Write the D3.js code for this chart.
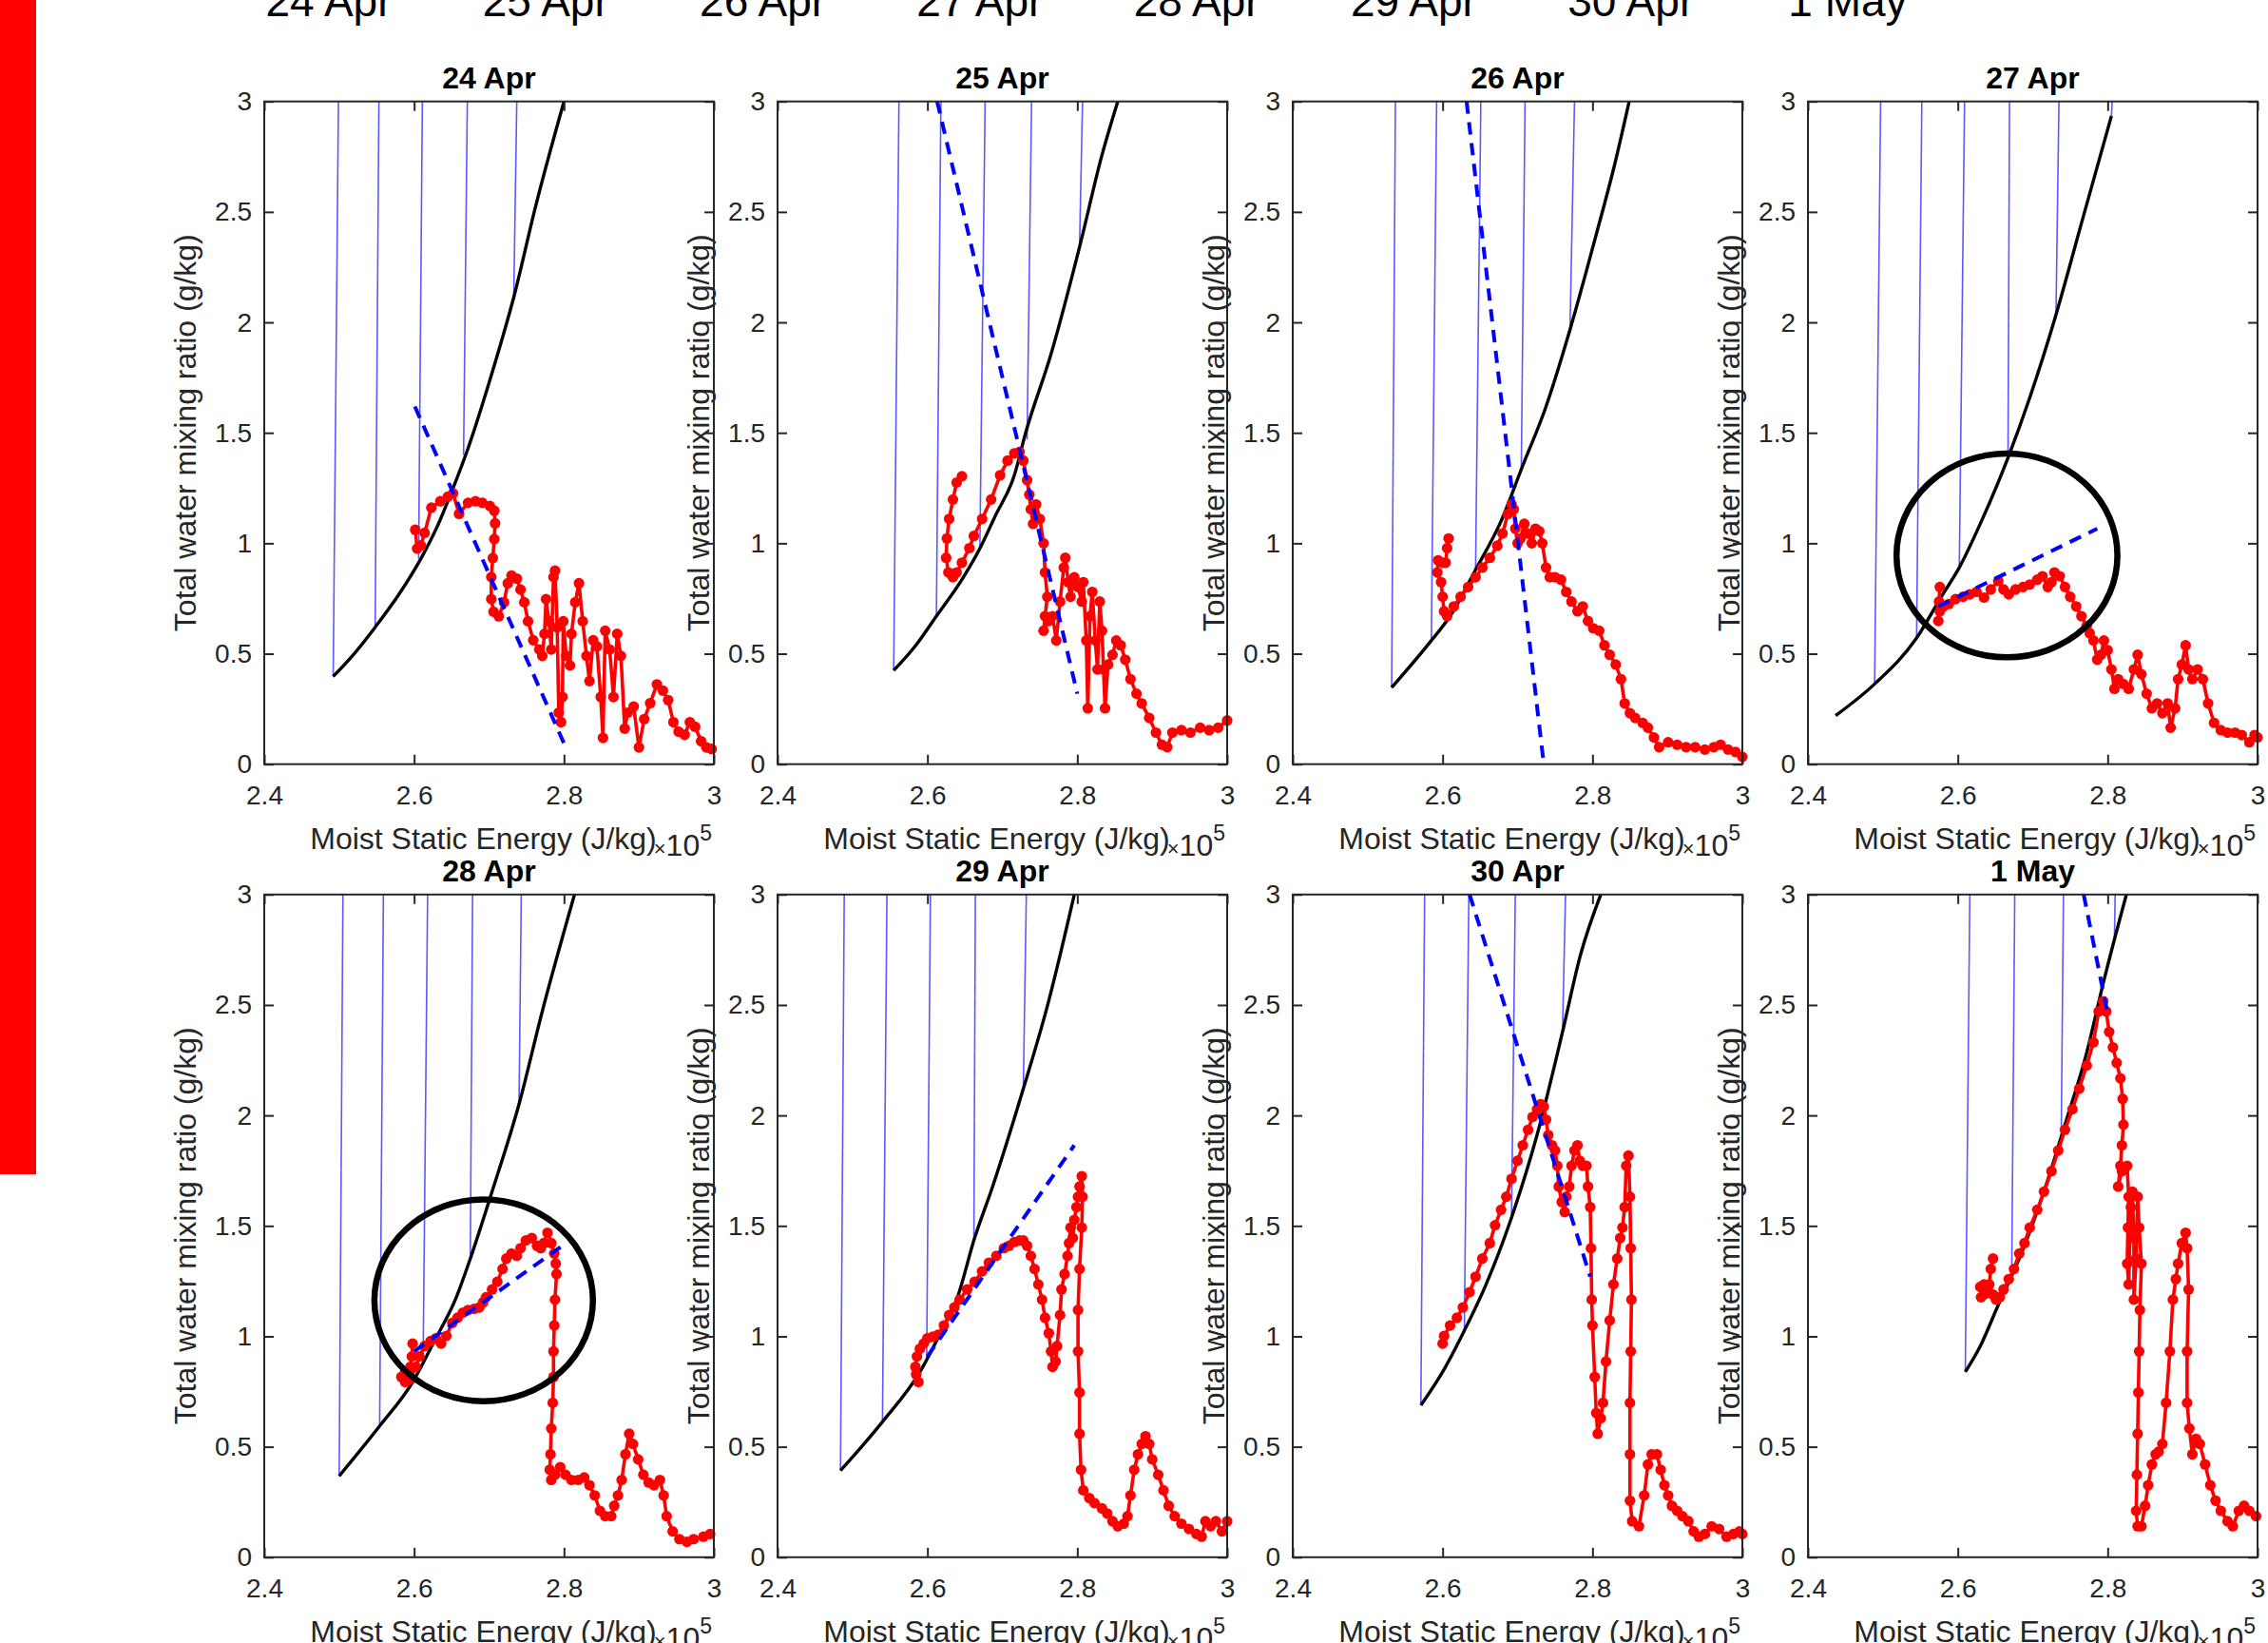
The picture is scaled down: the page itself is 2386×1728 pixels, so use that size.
<!DOCTYPE html>
<html>
<head>
<meta charset="utf-8">
<script src="https://cdn.jsdelivr.net/npm/d3@7"></script>
<style>
  body { margin: 0; background: #fff; }
  svg { display: block; font-family: "Liberation Sans", Arial, sans-serif; }
</style>
</head>
<body>
<div id="chart"></div>
<script>
// ---- data (MSE in 1e5 J/kg, q in g/kg) ----
var headerDays = ["24 Apr", "25 Apr", "26 Apr", "27 Apr", "28 Apr", "29 Apr", "30 Apr", "1 May"];
var panelTitles = ["24 Apr", "25 Apr", "26 Apr", "27 Apr", "28 Apr", "29 Apr", "30 Apr", "1 May"];
var xTicks = [2.4, 2.6, 2.8, 3];
var yTicks = [0, 0.5, 1, 1.5, 2, 2.5, 3];
var xLabel = "Moist Static Energy (J/kg)";
var yLabel = "Total water mixing ratio (g/kg)";

// saturation curve (black) for each day
var satCurves = [
  [[2.492,0.397],[2.52,0.50],[2.548,0.62],[2.58,0.77],[2.609,0.93],[2.63,1.07],[2.652,1.25],[2.672,1.43],[2.703,1.76],[2.735,2.14],[2.761,2.51],[2.8,3.0]],
  [[2.555,0.424],[2.585,0.54],[2.612,0.67],[2.648,0.846],[2.672,0.99],[2.69,1.12],[2.716,1.308],[2.731,1.499],[2.765,1.857],[2.803,2.341],[2.833,2.758],[2.854,3.0]],
  [[2.532,0.347],[2.585,0.56],[2.61,0.67],[2.644,0.88],[2.678,1.10],[2.707,1.352],[2.736,1.60],[2.77,1.967],[2.804,2.385],[2.83,2.72],[2.849,3.0]],
  [[2.437,0.22],[2.489,0.363],[2.545,0.571],[2.578,0.758],[2.602,0.89],[2.63,1.088],[2.668,1.396],[2.696,1.659],[2.729,2.011],[2.767,2.473],[2.805,2.934]],
  [[2.5,0.368],[2.554,0.594],[2.598,0.793],[2.627,0.979],[2.655,1.166],[2.675,1.352],[2.704,1.655],[2.74,2.051],[2.771,2.471],[2.814,3.0]],
  [[2.484,0.392],[2.54,0.613],[2.59,0.839],[2.619,1.026],[2.639,1.166],[2.663,1.445],[2.687,1.678],[2.728,2.121],[2.76,2.494],[2.796,3.0]],
  [[2.571,0.688],[2.6,0.839],[2.629,1.026],[2.658,1.235],[2.692,1.538],[2.726,1.911],[2.76,2.378],[2.784,2.727],[2.811,3.0]],
  [[2.61,0.839],[2.63,0.956],[2.654,1.142],[2.682,1.352],[2.715,1.655],[2.743,1.958],[2.772,2.284],[2.795,2.611],[2.825,3.0]]
];

// thin blue lines: [MSE at curve, q at curve, MSE at top]
var isoLines = [
  [[2.492,0.397,2.499],[2.548,0.62,2.553],[2.606,0.93,2.611],[2.666,1.40,2.671],[2.733,2.12,2.737]],
  [[2.555,0.424,2.562],[2.612,0.67,2.618],[2.670,0.98,2.677],[2.733,1.47,2.739],[2.803,2.341,2.807]],
  [[2.532,0.347,2.537],[2.585,0.56,2.592],[2.644,0.88,2.651],[2.705,1.33,2.710],[2.770,1.967,2.776]],
  [[2.489,0.363,2.497],[2.545,0.571,2.552],[2.602,0.89,2.609],[2.667,1.39,2.669],[2.731,2.03,2.735],[2.805,2.934,2.806]],
  [[2.5,0.368,2.505],[2.554,0.594,2.559],[2.612,0.88,2.618],[2.675,1.352,2.678],[2.74,2.051,2.743]],
  [[2.484,0.392,2.489],[2.54,0.613,2.546],[2.599,0.90,2.604],[2.662,1.434,2.664],[2.728,2.121,2.732]],
  [[2.571,0.688,2.576],[2.629,1.026,2.635],[2.692,1.538,2.697],[2.760,2.378,2.764]],
  [[2.61,0.839,2.616],[2.672,1.30,2.676],[2.738,1.90,2.741],[2.809,2.80,2.810]]
];

// dashed blue mixing line end points
var mixLines = [
  [[2.601,1.619],[2.803,0.071]],
  [[2.613,3.0],[2.8,0.319]],
  [[2.632,3.0],[2.735,0.0]],
  [[2.574,0.714],[2.786,1.066]],
  [[2.6,0.932],[2.798,1.41]],
  [[2.6,0.909],[2.796,1.865]],
  [[2.636,3.0],[2.797,1.27]],
  [[2.768,3.0],[2.8,2.459]]
];

// observed profiles (red), one array per day
var obs24Apr = [[2.6015,1.061],[2.604,0.976],[2.609,0.99],[2.614,1.047],[2.623,1.161],[2.635,1.19],[2.645,1.211],[2.652,1.226],[2.66,1.133],[2.672,1.183],[2.682,1.19],[2.691,1.183],[2.701,1.169],[2.707,1.147],[2.708,1.09],[2.707,1.019],[2.705,0.933],[2.703,0.847],[2.703,0.747],[2.706,0.69],[2.713,0.669],[2.72,0.733],[2.725,0.819],[2.73,0.854],[2.737,0.84],[2.742,0.79],[2.747,0.733],[2.752,0.647],[2.759,0.561],[2.767,0.519],[2.771,0.49],[2.774,0.59],[2.776,0.747],[2.78,0.647],[2.783,0.519],[2.786,0.847],[2.788,0.876],[2.791,0.619],[2.793,0.233],[2.796,0.19],[2.798,0.304],[2.799,0.647],[2.803,0.49],[2.808,0.447],[2.81,0.59],[2.815,0.733],[2.82,0.819],[2.825,0.647],[2.83,0.49],[2.834,0.376],[2.839,0.561],[2.844,0.533],[2.849,0.304],[2.852,0.119],[2.855,0.604],[2.861,0.519],[2.866,0.304],[2.871,0.59],[2.876,0.49],[2.881,0.161],[2.885,0.233],[2.893,0.261],[2.9,0.076],[2.907,0.204],[2.915,0.276],[2.924,0.361],[2.932,0.333],[2.939,0.29],[2.946,0.19],[2.953,0.147],[2.961,0.133],[2.968,0.19],[2.975,0.169],[2.983,0.104],[2.99,0.076],[2.997,0.069]];
var obs25Apr = [[2.646,1.303],[2.639,1.275],[2.634,1.198],[2.629,1.11],[2.626,1.022],[2.625,0.934],[2.628,0.868],[2.634,0.846],[2.639,0.868],[2.646,0.912],[2.656,0.978],[2.662,1.033],[2.673,1.11],[2.685,1.198],[2.697,1.308],[2.707,1.374],[2.716,1.407],[2.723,1.413],[2.728,1.374],[2.733,1.286],[2.736,1.22],[2.738,1.154],[2.741,1.088],[2.745,1.176],[2.75,1.11],[2.755,1.0],[2.757,0.868],[2.76,0.758],[2.757,0.67],[2.755,0.604],[2.762,0.648],[2.767,0.67],[2.772,0.56],[2.777,0.736],[2.782,0.89],[2.784,0.934],[2.788,0.824],[2.791,0.758],[2.796,0.846],[2.801,0.802],[2.806,0.736],[2.808,0.824],[2.812,0.56],[2.814,0.253],[2.817,0.67],[2.82,0.78],[2.824,0.56],[2.827,0.429],[2.83,0.736],[2.833,0.604],[2.835,0.429],[2.837,0.253],[2.841,0.451],[2.847,0.495],[2.852,0.56],[2.858,0.538],[2.864,0.473],[2.871,0.385],[2.879,0.319],[2.886,0.275],[2.896,0.209],[2.905,0.143],[2.913,0.088],[2.92,0.077],[2.927,0.143],[2.939,0.154],[2.951,0.143],[2.964,0.165],[2.976,0.154],[2.988,0.165],[3.0,0.198]];
var obs26Apr = [[2.608,1.022],[2.606,0.978],[2.604,0.912],[2.6,0.912],[2.594,0.923],[2.593,0.868],[2.598,0.824],[2.6,0.758],[2.602,0.692],[2.606,0.67],[2.615,0.714],[2.624,0.758],[2.634,0.802],[2.644,0.846],[2.653,0.89],[2.663,0.934],[2.673,0.989],[2.68,1.044],[2.687,1.132],[2.692,1.176],[2.695,1.154],[2.697,1.066],[2.7,1.0],[2.704,1.022],[2.709,1.088],[2.714,1.044],[2.719,1.0],[2.724,1.066],[2.729,1.055],[2.733,1.0],[2.738,0.89],[2.743,0.846],[2.75,0.846],[2.758,0.835],[2.765,0.78],[2.772,0.736],[2.78,0.692],[2.787,0.714],[2.794,0.648],[2.801,0.615],[2.809,0.604],[2.816,0.538],[2.823,0.495],[2.831,0.451],[2.838,0.385],[2.843,0.275],[2.85,0.231],[2.857,0.209],[2.867,0.187],[2.874,0.165],[2.882,0.121],[2.889,0.077],[2.901,0.099],[2.913,0.088],[2.925,0.077],[2.937,0.077],[2.95,0.066],[2.962,0.077],[2.971,0.088],[2.981,0.066],[2.991,0.055],[3.0,0.033]];
var obs27Apr = [[2.576,0.802],[2.575,0.736],[2.574,0.648],[2.576,0.692],[2.581,0.714],[2.588,0.725],[2.597,0.747],[2.607,0.758],[2.616,0.769],[2.625,0.78],[2.635,0.754],[2.644,0.791],[2.654,0.829],[2.661,0.791],[2.668,0.769],[2.677,0.791],[2.687,0.802],[2.696,0.813],[2.706,0.835],[2.713,0.851],[2.72,0.802],[2.725,0.824],[2.729,0.868],[2.736,0.851],[2.743,0.802],[2.75,0.758],[2.758,0.714],[2.765,0.67],[2.772,0.626],[2.776,0.593],[2.781,0.56],[2.786,0.473],[2.791,0.495],[2.795,0.56],[2.8,0.516],[2.805,0.429],[2.809,0.341],[2.814,0.385],[2.821,0.363],[2.828,0.341],[2.835,0.429],[2.84,0.495],[2.845,0.407],[2.852,0.319],[2.859,0.253],[2.866,0.275],[2.873,0.231],[2.88,0.275],[2.884,0.165],[2.89,0.253],[2.894,0.385],[2.899,0.451],[2.904,0.538],[2.908,0.429],[2.913,0.385],[2.92,0.429],[2.927,0.385],[2.934,0.275],[2.942,0.187],[2.951,0.154],[2.96,0.143],[2.97,0.143],[2.979,0.132],[2.989,0.099],[2.996,0.132],[3.0,0.121]];
var obs28Apr = [[2.598,0.967],[2.597,0.909],[2.595,0.862],[2.588,0.839],[2.583,0.816],[2.588,0.793],[2.595,0.804],[2.602,0.862],[2.607,0.909],[2.614,0.956],[2.622,0.979],[2.629,0.991],[2.636,0.967],[2.643,1.002],[2.651,1.061],[2.658,1.084],[2.665,1.107],[2.672,1.119],[2.68,1.124],[2.687,1.131],[2.692,1.154],[2.696,1.177],[2.704,1.212],[2.711,1.247],[2.718,1.305],[2.723,1.352],[2.73,1.375],[2.737,1.364],[2.742,1.399],[2.749,1.434],[2.757,1.445],[2.764,1.41],[2.769,1.399],[2.773,1.422],[2.778,1.469],[2.783,1.422],[2.787,1.375],[2.789,1.329],[2.79,1.282],[2.788,1.166],[2.787,1.049],[2.786,0.932],[2.786,0.816],[2.785,0.699],[2.783,0.583],[2.782,0.466],[2.781,0.396],[2.783,0.35],[2.788,0.373],[2.795,0.408],[2.802,0.373],[2.81,0.35],[2.819,0.35],[2.827,0.361],[2.834,0.326],[2.841,0.28],[2.848,0.21],[2.855,0.186],[2.863,0.186],[2.867,0.233],[2.872,0.28],[2.877,0.35],[2.882,0.466],[2.887,0.559],[2.892,0.513],[2.899,0.443],[2.906,0.373],[2.913,0.338],[2.92,0.326],[2.928,0.35],[2.933,0.28],[2.937,0.186],[2.945,0.117],[2.954,0.082],[2.964,0.07],[2.973,0.082],[2.986,0.093],[2.995,0.105]];
var obs29Apr = [[2.588,0.793],[2.585,0.828],[2.584,0.862],[2.586,0.909],[2.59,0.944],[2.595,0.967],[2.6,0.991],[2.607,0.998],[2.614,1.007],[2.622,1.049],[2.629,1.096],[2.636,1.131],[2.643,1.166],[2.653,1.212],[2.663,1.247],[2.673,1.294],[2.682,1.333],[2.692,1.364],[2.702,1.399],[2.709,1.41],[2.716,1.427],[2.723,1.434],[2.728,1.434],[2.733,1.41],[2.738,1.364],[2.743,1.305],[2.748,1.235],[2.753,1.166],[2.757,1.084],[2.762,1.014],[2.765,0.932],[2.767,0.862],[2.771,0.886],[2.773,0.956],[2.777,1.096],[2.779,1.212],[2.783,1.282],[2.787,1.364],[2.789,1.422],[2.791,1.492],[2.794,1.445],[2.796,1.527],[2.799,1.585],[2.801,1.632],[2.803,1.678],[2.806,1.725],[2.807,1.632],[2.806,1.492],[2.803,1.305],[2.801,1.119],[2.801,0.932],[2.803,0.746],[2.803,0.559],[2.805,0.396],[2.808,0.303],[2.816,0.268],[2.823,0.245],[2.833,0.221],[2.84,0.198],[2.847,0.163],[2.854,0.14],[2.862,0.152],[2.867,0.186],[2.871,0.28],[2.876,0.396],[2.881,0.466],[2.886,0.513],[2.891,0.548],[2.896,0.513],[2.9,0.443],[2.908,0.373],[2.915,0.303],[2.922,0.233],[2.93,0.186],[2.939,0.152],[2.949,0.128],[2.959,0.105],[2.966,0.093],[2.971,0.163],[2.978,0.14],[2.985,0.163],[2.993,0.117],[3.0,0.163]];
var obs30Apr = [[2.6,0.967],[2.602,1.002],[2.61,1.049],[2.619,1.084],[2.627,1.131],[2.636,1.2],[2.644,1.27],[2.653,1.352],[2.663,1.422],[2.67,1.503],[2.678,1.573],[2.685,1.632],[2.692,1.713],[2.7,1.795],[2.707,1.865],[2.714,1.935],[2.72,1.993],[2.726,2.028],[2.731,2.051],[2.735,2.04],[2.738,1.981],[2.741,1.911],[2.746,1.865],[2.75,1.841],[2.753,1.772],[2.755,1.678],[2.759,1.608],[2.763,1.562],[2.765,1.632],[2.769,1.678],[2.772,1.772],[2.776,1.841],[2.78,1.865],[2.783,1.795],[2.787,1.772],[2.792,1.772],[2.794,1.678],[2.797,1.585],[2.798,1.399],[2.799,1.166],[2.8,1.049],[2.803,0.816],[2.805,0.653],[2.807,0.559],[2.811,0.629],[2.814,0.699],[2.818,0.886],[2.823,1.072],[2.828,1.235],[2.833,1.352],[2.837,1.445],[2.84,1.492],[2.843,1.585],[2.845,1.772],[2.848,1.818],[2.85,1.632],[2.851,1.399],[2.852,1.166],[2.851,0.932],[2.85,0.699],[2.85,0.466],[2.85,0.256],[2.853,0.163],[2.862,0.14],[2.869,0.28],[2.874,0.42],[2.879,0.466],[2.886,0.466],[2.891,0.396],[2.896,0.326],[2.901,0.28],[2.906,0.233],[2.913,0.21],[2.92,0.186],[2.928,0.163],[2.935,0.117],[2.942,0.093],[2.95,0.105],[2.959,0.14],[2.969,0.128],[2.979,0.093],[2.988,0.105],[2.996,0.117],[3.0,0.105]];
var obs1May = [[2.647,1.352],[2.644,1.305],[2.642,1.235],[2.635,1.235],[2.63,1.224],[2.631,1.177],[2.635,1.189],[2.64,1.212],[2.647,1.189],[2.651,1.166],[2.656,1.177],[2.661,1.212],[2.668,1.259],[2.675,1.305],[2.682,1.375],[2.689,1.422],[2.696,1.492],[2.706,1.573],[2.715,1.655],[2.725,1.748],[2.734,1.841],[2.743,1.935],[2.753,2.028],[2.762,2.121],[2.772,2.226],[2.781,2.331],[2.788,2.471],[2.794,2.517],[2.798,2.471],[2.802,2.378],[2.807,2.308],[2.812,2.238],[2.817,2.168],[2.82,2.075],[2.821,1.958],[2.819,1.865],[2.817,1.772],[2.814,1.678],[2.819,1.748],[2.826,1.772],[2.828,1.632],[2.827,1.492],[2.826,1.329],[2.828,1.235],[2.831,1.585],[2.833,1.655],[2.835,1.445],[2.835,1.166],[2.838,1.352],[2.84,1.632],[2.842,1.492],[2.845,1.329],[2.843,1.119],[2.842,0.932],[2.841,0.746],[2.84,0.559],[2.839,0.373],[2.838,0.21],[2.84,0.14],[2.845,0.14],[2.85,0.233],[2.854,0.326],[2.859,0.42],[2.864,0.466],[2.868,0.478],[2.873,0.513],[2.878,0.699],[2.883,0.932],[2.887,1.166],[2.891,1.259],[2.894,1.329],[2.899,1.422],[2.904,1.469],[2.906,1.399],[2.908,1.212],[2.906,0.932],[2.906,0.699],[2.909,0.583],[2.913,0.466],[2.918,0.536],[2.923,0.513],[2.93,0.42],[2.937,0.326],[2.944,0.256],[2.951,0.21],[2.96,0.163],[2.967,0.14],[2.975,0.21],[2.982,0.233],[2.989,0.21],[2.998,0.186]];
var obsSeries = [obs24Apr, obs25Apr, obs26Apr, obs27Apr, obs28Apr, obs29Apr, obs30Apr, obs1May];

// hand-drawn black circles: panel index, centre [MSE, q], radii [MSE, q]
var circlePanels = [3, 4];
var circleCentres = [[2.6656, 0.945], [2.6928, 1.163]];
var circleRadii = [[0.1474, 0.4615], [0.1458, 0.457]];

// ---- layout ----
var svgWidth = 2386;
var svgHeight = 1728;
var colLeft = [278, 818, 1360, 1902];
var rowTop = [106.7, 940.8];
var panelW = 473;
var panelH = 697;
var axisColor = "#262626";

var svg = d3.select("#chart")
  .append("svg")
  .attr("width", svgWidth)
  .attr("height", svgHeight);

// red bar on the left edge
svg.append("rect")
  .attr("x", 0).attr("y", 0)
  .attr("width", 38).attr("height", 1235)
  .attr("fill", "#ff0000");

// header row of day names (cut by the top edge)
var headerX = d3.scalePoint().domain(headerDays).range([346, 1944]);
svg.append("g").selectAll("text")
  .data(headerDays)
  .enter()
  .append("text")
  .attr("x", d => headerX(d))
  .attr("y", 17)
  .attr("text-anchor", "middle")
  .attr("font-size", 46)
  .attr("fill", "#000")
  .text(d => d);

var curveLine = d3.line().curve(d3.curveMonotoneX);
var plainLine = d3.line();

panelTitles.forEach(function(title, i) {
  var x0 = colLeft[i % 4];
  var y0 = rowTop[Math.floor(i / 4)];

  var x = d3.scaleLinear().domain([2.4, 3]).range([x0, x0 + panelW]);
  var y = d3.scaleLinear().domain([0, 3]).range([y0 + panelH, y0]);

  var g = svg.append("g");

  // thin blue lines from curve up to top
  g.selectAll(".iso")
    .data(isoLines[i])
    .enter()
    .append("line")
    .attr("x1", d => x(d[0]))
    .attr("y1", d => y(d[1]))
    .attr("x2", d => x(d[2]))
    .attr("y2", y(3))
    .attr("stroke", "#5a5aff")
    .attr("stroke-width", 1.6);

  // saturation curve
  g.append("path")
    .attr("d", curveLine(satCurves[i].map(d => [x(d[0]), y(d[1])])))
    .attr("fill", "none")
    .attr("stroke", "#000")
    .attr("stroke-width", 3.4);

  // observed profile
  var pts = obsSeries[i].map(d => [x(d[0]), y(d[1])]);
  g.append("path")
    .attr("d", plainLine(pts))
    .attr("fill", "none")
    .attr("stroke", "#ff0000")
    .attr("stroke-width", 3.6)
    .attr("stroke-linejoin", "round");
  g.selectAll(".obs")
    .data(pts)
    .enter()
    .append("circle")
    .attr("cx", d => d[0])
    .attr("cy", d => d[1])
    .attr("r", 5.6)
    .attr("fill", "#ff0000");

  // mixing line
  g.append("path")
    .attr("d", plainLine(mixLines[i].map(d => [x(d[0]), y(d[1])])))
    .attr("fill", "none")
    .attr("stroke", "#0000ff")
    .attr("stroke-width", 4)
    .attr("stroke-dasharray", "13,9");

  // circles drawn on top
  var c = circlePanels.indexOf(i);
  if (c >= 0) {
    var cx = x(circleCentres[c][0]);
    var cy = y(circleCentres[c][1]);
    g.append("ellipse")
      .attr("cx", cx)
      .attr("cy", cy)
      .attr("rx", x(circleCentres[c][0] + circleRadii[c][0]) - cx)
      .attr("ry", cy - y(circleCentres[c][1] + circleRadii[c][1]))
      .attr("fill", "none")
      .attr("stroke", "#000")
      .attr("stroke-width", 6.5);
  }

  // axes: ticks pointing inward on all four sides
  var bottomAxis = d3.axisBottom(x).tickValues(xTicks).tickSize(-10).tickPadding(22).tickFormat(d => String(d));
  var leftAxis = d3.axisLeft(y).tickValues(yTicks).tickSize(-10).tickPadding(13).tickFormat(d => String(d));
  var topAxis = d3.axisTop(x).tickValues(xTicks).tickSize(-10).tickFormat("");
  var rightAxis = d3.axisRight(y).tickValues(yTicks).tickSize(-10).tickFormat("");

  var axes = [
    g.append("g").attr("transform", `translate(0, ${y0 + panelH})`).call(bottomAxis),
    g.append("g").attr("transform", `translate(${x0}, 0)`).call(leftAxis),
    g.append("g").attr("transform", `translate(0, ${y0})`).call(topAxis),
    g.append("g").attr("transform", `translate(${x0 + panelW}, 0)`).call(rightAxis)
  ];
  axes.forEach(function(a) {
    a.select(".domain").remove();
    a.selectAll("line").attr("stroke", axisColor).attr("stroke-width", 2);
    a.selectAll("text")
      .attr("font-size", 28)
      .attr("font-family", "Liberation Sans, Arial, sans-serif")
      .attr("fill", axisColor);
  });

  g.append("rect")
    .attr("x", x0).attr("y", y0)
    .attr("width", panelW).attr("height", panelH)
    .attr("fill", "none")
    .attr("stroke", axisColor)
    .attr("stroke-width", 2);

  // title
  g.append("text")
    .attr("x", x0 + panelW / 2)
    .attr("y", y0 - 13.4)
    .attr("text-anchor", "middle")
    .attr("font-size", 32)
    .attr("font-weight", "bold")
    .attr("fill", "#000")
    .text(title);

  // x label and exponent
  g.append("text")
    .attr("x", x0 + panelW / 2 - 6)
    .attr("y", y0 + panelH + 89)
    .attr("text-anchor", "middle")
    .attr("font-size", 32)
    .attr("fill", axisColor)
    .text(xLabel);

  var expo = g.append("text")
    .attr("x", x0 + panelW - 2)
    .attr("y", y0 + panelH + 96)
    .attr("text-anchor", "end")
    .attr("font-size", 32)
    .attr("fill", axisColor);
  expo.append("tspan").attr("font-size", 22).text("\u00d7");
  expo.append("tspan").text("10");
  expo.append("tspan").attr("dy", -16).attr("font-size", 23).text("5");

  // y label
  g.append("text")
    .attr("transform", `translate(${x0 - 72}, ${y0 + panelH / 2}) rotate(-90)`)
    .attr("text-anchor", "middle")
    .attr("font-size", 32)
    .attr("fill", axisColor)
    .text(yLabel);
});
</script>
</body>
</html>
